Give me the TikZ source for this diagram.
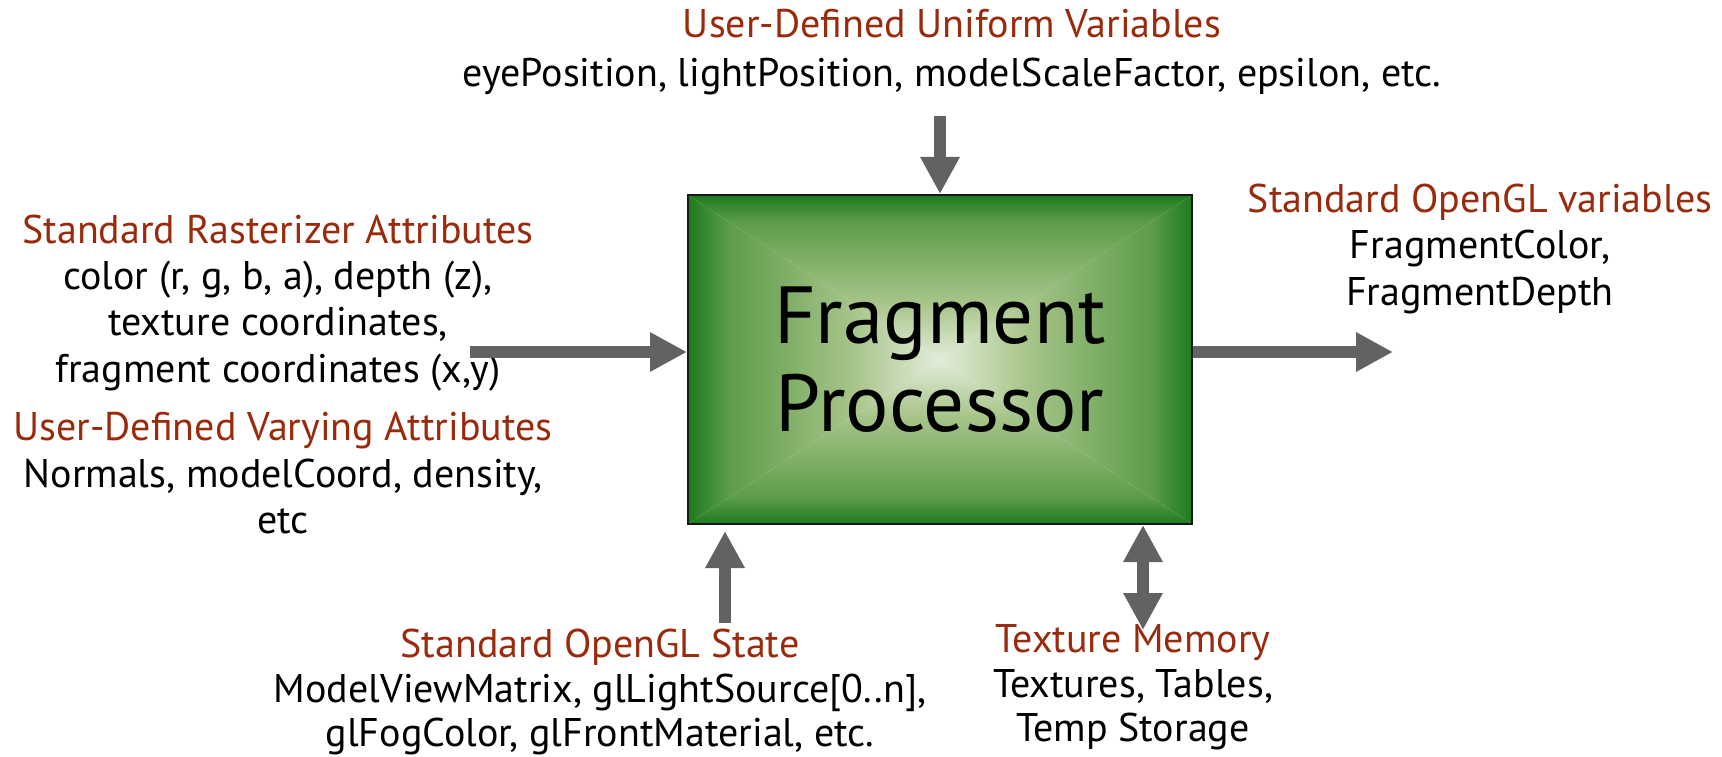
\documentclass[tikz,border=0pt]{standalone}
\usepackage{fontspec}
\setmainfont{PT Sans}
\usetikzlibrary{arrows.meta}
\definecolor{headred}{HTML}{9A2A0C}
\definecolor{arrowgray}{HTML}{626262}
\definecolor{gdark}{HTML}{1D7A1D}
\definecolor{gmid}{HTML}{5C9C4A}
\definecolor{glight}{HTML}{A8C58A}
\definecolor{gcenter}{HTML}{E2ECDA}
\pgfdeclareverticalshading{bevel}{100bp}{color(0bp)=(gdark); color(25bp)=(gdark); color(33bp)=(gmid); color(58bp)=(glight); color(75bp)=(gcenter); color(100bp)=(gcenter)}
\tikzset{
  headtxt/.style={text=headred, font=\fontsize{40}{46}\selectfont, anchor=base, inner sep=0pt},
  bodytxt/.style={text=black, font=\fontsize{40}{46}\selectfont, anchor=base, inner sep=0pt},
  bigarrow/.style={draw=arrowgray, line width=12pt, -{Triangle[length=37pt 0 0,width=37pt 0 0]}},
  dblarrow/.style={draw=arrowgray, line width=12pt, {Triangle[length=37pt 0 0,width=37pt 0 0]}-{Triangle[length=37pt 0 0,width=37pt 0 0]}},
  procbox/.style={draw=black!90, line width=2pt, minimum width=504pt, minimum height=329pt, inner sep=0pt, align=center, font=\fontsize{81}{88}\selectfont}
}
\begin{document}
\begin{tikzpicture}[x=1pt,y=-1pt]
\useasboundingbox (0,0) rectangle (1722,757);
% bevel shading of the box
\shade[shading=bevel, shading angle=180] (688,195) -- (1192,195) -- (940,359.5) -- cycle;
\shade[shading=bevel, shading angle=0] (688,524) -- (1192,524) -- (940,359.5) -- cycle;
\shade[shading=bevel, shading angle=270] (688,195) -- (688,524) -- (940,359.5) -- cycle;
\shade[shading=bevel, shading angle=90] (1192,195) -- (1192,524) -- (940,359.5) -- cycle;
\node[procbox] (fp) at (940,359.5) {Fragment\\Processor};

% top
\node[headtxt] (uniH) at (952,38) {User-Defined Uniform Variables};
\node[bodytxt] (uniB) at (952,87) {eyePosition, lightPosition, modelScaleFactor, epsilon, etc.};
% right
\node[headtxt] (outH) at (1480,212) {Standard OpenGL variables};
\node[bodytxt] (outB1) at (1480,258) {FragmentColor,};
\node[bodytxt] (outB2) at (1480,305) {FragmentDepth};
% left
\node[headtxt] (rasH) at (278,243) {Standard Rasterizer Attributes};
\node[bodytxt] (rasB1) at (278,289) {color (r, g, b, a), depth (z),};
\node[bodytxt] (rasB2) at (278,335) {texture coordinates,};
\node[bodytxt] (rasB3) at (278,382) {fragment coordinates (x,y)};
\node[headtxt] (varH) at (283,440) {User-Defined Varying Attributes};
\node[bodytxt] (varB1) at (283,487) {Normals, modelCoord, density,};
\node[bodytxt] (varB2) at (283,533) {etc};
% bottom
\node[headtxt] (stH) at (600,657) {Standard OpenGL State};
\node[bodytxt] (stB1) at (600,702) {ModelViewMatrix, glLightSource[0..n],};
\node[bodytxt] (stB2) at (600,746) {glFogColor, glFrontMaterial, etc.};
\node[headtxt] (txH) at (1133,652) {Texture Memory};
\node[bodytxt] (txB1) at (1133,697) {Textures, Tables,};
\node[bodytxt] (txB2) at (1133,741) {Temp Storage};

% connectors
\coordinate (topS) at (940,116);
\draw[bigarrow] (topS) -- (fp.north);
\coordinate (leftS) at (470,352);
\draw[bigarrow] (leftS) -- (fp.west |- leftS);
\coordinate (rightE) at (1393,352);
\draw[bigarrow] (fp.east |- rightE) -- (rightE);
\coordinate (stS) at (725,623);
\draw[bigarrow, shorten >=6pt] (stS) -- (stS |- fp.south);
\coordinate (txE) at (1143,630);
\draw[dblarrow] (txE |- fp.south) -- (txE);
\end{tikzpicture}
\end{document}
